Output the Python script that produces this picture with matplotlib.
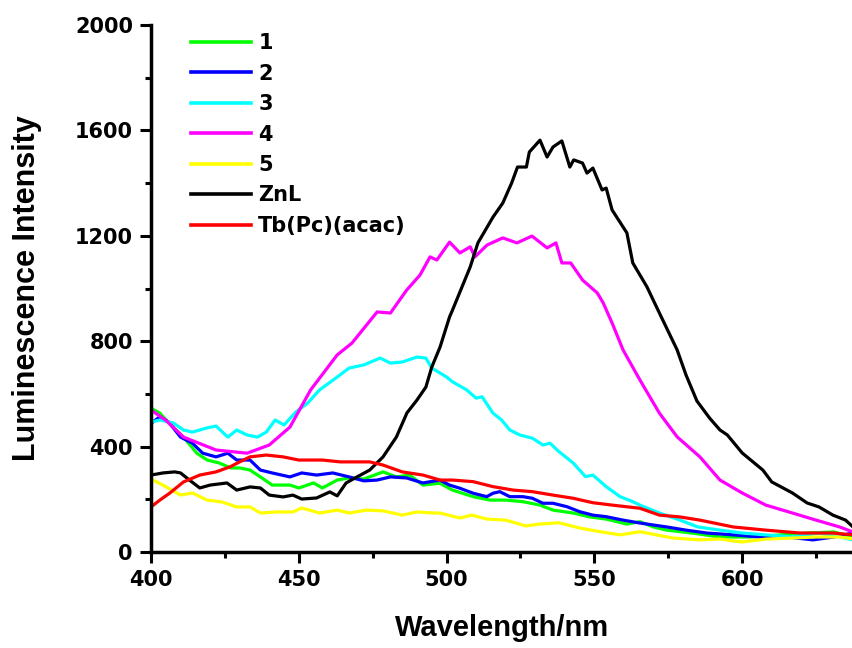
import matplotlib
matplotlib.use('Agg')
import matplotlib.pyplot as plt
from matplotlib.ticker import MultipleLocator

plt.rcParams['font.family'] = ['DejaVu Sans']
plt.rcParams['font.weight'] = 'bold'

# sample 1 (green)
wl_1 = [400, 403, 406, 411, 415.5, 419, 423, 427, 430, 433.5, 437, 441, 447, 450, 455, 458, 463, 467, 472,
        478.5, 483, 487.5, 492, 497.7, 502, 509, 514.7, 520, 525.8, 531.6, 536, 542.8, 548.5, 554, 561,
        565.4, 570, 574.5, 583, 592.5, 602.5, 613, 622, 631, 637.5]
int_1 = [546, 527, 490, 436, 375, 349, 338, 319, 319, 311, 285, 254, 254, 243, 262, 243, 273, 281, 277,
         304, 285, 292, 254, 261, 235, 210, 197, 197, 191, 178, 159, 148, 133, 125, 106,
         115, 95, 83, 72, 57, 57, 65, 72, 76, 57]

# sample 2 (blue)
wl_2 = [400, 403, 406, 410, 414, 417.5, 422, 426, 429, 433.5, 437, 441, 447, 451, 456, 461.5, 467, 472,
        476.5, 481, 486.5, 492, 497.7, 501, 504.5, 509, 513.6, 515.7, 518, 521.4, 525.8, 529, 532.6, 536,
        540.7, 545, 549.5, 554, 559.7, 565.4, 574.5, 581, 588, 597, 606, 615, 624, 631, 637.5]
int_2 = [488, 513, 493, 436, 413, 375, 361, 375, 349, 349, 311, 300, 285, 300, 292, 300, 285, 270,
         273, 285, 281, 262, 273, 254, 242, 223, 210, 223, 229, 210, 210, 204, 185, 185,
         172, 153, 140, 134, 121, 110, 95, 83, 72, 65, 57, 57, 46, 57, 72]

# sample 3 (cyan)
wl_3 = [400, 403, 407.5, 411, 414, 419, 422, 426, 429, 432.5, 436, 439, 442, 445, 449, 453, 457, 463, 467,
        472, 477.5, 481, 485, 490, 493, 495, 500, 502, 506.8, 510, 512, 515.7, 518.6, 521.4, 524.8, 529,
        532.6, 535, 538, 542.8, 547, 549.5, 554, 558.7, 563, 565.4, 572, 579, 585, 592.5, 600, 608, 617,
        626, 633, 637.5]
int_3 = [493, 501, 490, 463, 455, 471, 478, 436, 463, 444, 436, 455, 501, 482, 531, 565, 615, 664, 698,
         710, 736, 717, 721, 740, 736, 698, 664, 646, 615, 584, 589, 527, 501, 463, 444, 432,
         406, 413, 381, 338, 286, 292, 248, 210, 191, 178, 148, 121, 95, 83, 72, 65, 57,
         72, 57, 46]

# sample 4 (magenta)
wl_4 = [400, 405, 411, 422, 432.5, 440, 447, 454, 463, 468, 476.5, 481, 486.5, 491, 494.4, 496.7, 501,
        504.5, 508, 509.6, 513.7, 519, 523.8, 528.9, 534, 537, 539, 542, 546, 551, 553, 556, 559.7,
        565.4, 572, 578, 585.7, 592.5, 600, 608, 617, 625, 633, 637.5]
int_4 = [539, 500, 436, 387, 375, 406, 474, 615, 748, 793, 911, 907, 994, 1051, 1120, 1108, 1176,
         1135, 1158, 1120, 1165, 1192, 1173, 1199, 1154, 1173, 1097, 1097, 1032, 983, 945, 869, 767,
         653, 527, 437, 361, 273, 224, 178, 148, 121, 95, 76]

# sample 5 (yellow)
wl_5 = [400, 404, 410, 414, 419, 424, 429, 433.5, 437, 442.6, 448, 451, 457, 463, 467, 473, 478.5, 485,
        490, 495.4, 497.7, 504.5, 508.5, 513.6, 520, 526.8, 531.6, 538, 545, 552, 558.7, 565.4, 571,
        576.6, 585.7, 592.5, 600, 608, 617, 625, 633, 637.5]
int_5 = [277, 254, 216, 224, 197, 190, 171, 171, 148, 152, 152, 167, 148, 159, 148, 159, 156, 140,
         152, 148, 148, 129, 140, 125, 121, 99, 106, 111, 91, 77, 65, 77, 65,
         53, 46, 49, 38, 49, 53, 57, 57, 50]

# ZnL (black)
wl_znl = [400, 404, 408, 410, 413, 416.5, 420, 425.7, 429, 433.5, 437, 440, 444.7, 448, 451, 456, 460.5,
          463, 466, 469.7, 474, 478.5, 483, 486.6, 490, 493, 495, 497.8, 501, 502, 508, 510.6, 515.7,
          519, 522, 524, 527, 528, 531.6, 534, 536, 539, 541.7, 543, 546, 547.5, 549.5, 552.6, 554,
          556, 561, 563, 567.8, 572, 578, 581, 584.7, 589, 592.5, 595, 600, 607, 610, 617, 622, 626,
          630.7, 635, 637.5]
int_znl = [292, 300, 304, 300, 273, 243, 254, 262, 235, 247, 243, 216, 209, 216, 201, 205, 228,
           213, 262, 285, 311, 361, 436, 528, 577, 626, 702, 778, 892, 918, 1082, 1173, 1271,
           1324, 1400, 1461, 1461, 1518, 1563, 1499, 1537, 1560, 1461, 1488, 1476, 1438, 1457, 1374, 1381,
           1298, 1211, 1097, 1006, 907, 767, 672, 573, 508, 463, 444, 376, 311, 266, 224, 186, 171,
           140, 121, 95]

# Tb(Pc)(acac) (red)
wl_tb = [400, 403, 406.4, 411, 416.5, 422, 426.7, 430, 433.5, 439, 444.7, 450, 458, 464, 474, 478.5, 485,
         492, 497.8, 502, 509, 515.7, 522.5, 529, 536, 542.8, 549.5, 556, 565.4, 572, 579, 585.7, 597,
         608, 619.6, 630.7, 637.5]
int_tb = [171, 197, 224, 266, 292, 304, 323, 342, 361, 368, 361, 349, 349, 342, 342, 330, 304,
          292, 273, 273, 267, 248, 235, 229, 216, 204, 187, 178, 166, 140, 133, 121, 95,
          83, 72, 72, 65]

series = [
    (wl_1, int_1, '1', '#00ff00'),
    (wl_2, int_2, '2', '#0000ff'),
    (wl_3, int_3, '3', '#00ffff'),
    (wl_4, int_4, '4', '#ff00ff'),
    (wl_5, int_5, '5', '#ffff00'),
    (wl_znl, int_znl, 'ZnL', '#000000'),
    (wl_tb, int_tb, 'Tb(Pc)(acac)', '#ff0000'),
]

fig = plt.figure(figsize=(8.53, 6.48), dpi=100)
ax = fig.add_axes([151 / 853, 96 / 648, 702 / 853, 527 / 648])

for x, y, label, color in series:
    ax.plot(x, y, color=color, lw=2.3, label=label)

ax.set_xlim(400, 637.5)
ax.set_ylim(0, 2000)
ax.xaxis.set_major_locator(MultipleLocator(50))
ax.xaxis.set_minor_locator(MultipleLocator(25))
ax.yaxis.set_major_locator(MultipleLocator(400))
ax.yaxis.set_minor_locator(MultipleLocator(200))

ax.spines['top'].set_visible(False)
ax.spines['right'].set_visible(False)
ax.spines['left'].set_linewidth(2.5)
ax.spines['bottom'].set_linewidth(2.5)
ax.tick_params(which='major', direction='out', length=8, width=2.2, labelsize=15, pad=5)
ax.tick_params(which='minor', direction='out', length=4.5, width=2.2)
for lab in ax.get_xticklabels() + ax.get_yticklabels():
    lab.set_fontweight('bold')

arial = ['Liberation Sans', 'DejaVu Sans']
ax.set_xlabel('Wavelength/nm', fontsize=21, fontweight='bold', labelpad=17, family=arial)
ax.set_ylabel('Luminescence Intensity', fontsize=22, fontweight='bold', labelpad=24, family=arial)

leg = ax.legend(loc='upper left', bbox_to_anchor=(0.045, 1.0), frameon=False, fontsize=15,
                handlelength=2.9, handletextpad=0.33, labelspacing=0.5, borderaxespad=0.0)
for line in leg.get_lines():
    line.set_linewidth(2.6)
for t in leg.get_texts():
    t.set_fontweight('bold')

fig.savefig('out.png', dpi=100)
